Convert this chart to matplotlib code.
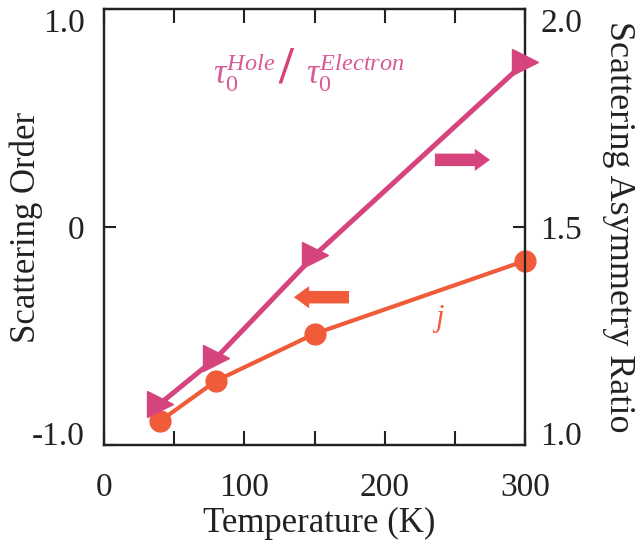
import matplotlib
matplotlib.use("Agg")
import matplotlib.pyplot as plt

plt.rcParams['font.family'] = 'Liberation Serif'
plt.rcParams['mathtext.fontset'] = 'custom'
plt.rcParams['mathtext.rm'] = 'Liberation Serif'
plt.rcParams['mathtext.it'] = 'Liberation Serif:italic'

# temperature series (K)
temperature = [40, 80, 150, 300]
# scattering order j (left axis)
order_j = [-0.89, -0.705, -0.49, -0.155]
# hole/electron scattering time ratio (right axis)
asym_ratio = [1.095, 1.2, 1.435, 1.878]

x_ticks = [0, 50, 100, 150, 200, 250, 300]
x_labels = ['0', '', '100', '', '200', '', '300']
left_ticks = [-1.0, 0.0, 1.0]
left_labels = ['-1.0', '0', '1.0']
right_ticks = [1.0, 1.5, 2.0]
right_labels = ['1.0', '1.5', '2.0']

pink = '#d6447e'
orange = '#f05c3a'
ink = '#222222'

fig = plt.figure(figsize=(6.44, 5.46), dpi=100)
ax = fig.add_axes([104 / 644, 101 / 546, 421 / 644, 436 / 546])
ax2 = ax.twinx()

ax.plot(temperature, order_j, color=orange, lw=3, marker='o', ms=15,
        clip_on=False, zorder=3)
ax2.plot(temperature, asym_ratio, color=pink, lw=3.6, marker='>', ms=19,
         clip_on=False, zorder=3)

ax.set_xlim(0, 300)
ax.set_ylim(-1, 1)
ax2.set_ylim(1, 2)

ax.set_xticks(x_ticks)
ax.set_xticklabels(x_labels)
ax.tick_params(axis='x', direction='in', length=10, width=1.5, top=True,
               pad=20, labelsize=24, labelcolor=ink, color=ink)

ax.set_yticks(left_ticks)
ax.set_yticklabels(left_labels)
ax.tick_params(axis='y', direction='in', length=8.5, width=1.5, pad=14,
               labelsize=24, labelcolor=ink, color=ink)
ax2.set_yticks(right_ticks)
ax2.set_yticklabels(right_labels)
ax2.tick_params(axis='y', direction='in', length=8.5, width=1.5, pad=11,
                labelsize=24, labelcolor=ink, color=ink)

ylab = ax.get_yticklabels()
ylab[0].set_va('baseline')
ylab[2].set_va('top')
rlab = ax2.get_yticklabels()
rlab[0].set_va('baseline')
rlab[2].set_va('top')

for a in (ax, ax2):
    for s in a.spines.values():
        s.set_linewidth(1.6)
        s.set_color(ink)

ax.set_xlabel('Temperature (K)', fontsize=25, color=ink, va='center')
ax.xaxis.set_label_coords(0.51, -0.179)
ax.set_ylabel('Scattering Order', fontsize=25, color=ink, va='center')
ax.yaxis.set_label_coords(-0.185, 0.5)
ax2.set_ylabel('Scattering Asymmetry Ratio', fontsize=26, color=ink,
               rotation=270, va='center', ha='center')
ax2.yaxis.set_label_coords(1.223, 0.5)

# series labels
tau_col = '#d85a98'
ax.text(0.258, 0.83, r'$\tau_0^{\mathit{Hole}}$', transform=ax.transAxes,
        fontsize=25, color=tau_col, ha='left', va='baseline')
ax.text(0.432, 0.862, '/', transform=ax.transAxes, fontsize=38,
        fontweight='bold', color=pink, ha='center', va='center')
ax.text(0.48, 0.83, r'$\tau_0^{\mathit{Electron}}$', transform=ax.transAxes,
        fontsize=25, color=tau_col, ha='left', va='baseline')
ax.text(0.798, 0.289, 'j', transform=ax.transAxes, fontsize=22,
        style='italic', color=orange, ha='center', va='center')

# arrows telling which axis each curve belongs to
arrow_style = 'simple,head_width=1.6,head_length=1.1,tail_width=0.9'
ax.annotate('', xy=(0.917, 0.654), xytext=(0.786, 0.654),
            xycoords='axes fraction',
            arrowprops=dict(arrowstyle=arrow_style, color=pink, lw=0,
                            shrinkA=0, shrinkB=0))
ax.annotate('', xy=(0.451, 0.339), xytext=(0.582, 0.339),
            xycoords='axes fraction',
            arrowprops=dict(arrowstyle=arrow_style, color=orange, lw=0,
                            shrinkA=0, shrinkB=0))

fig.savefig('out.png', dpi=100)
